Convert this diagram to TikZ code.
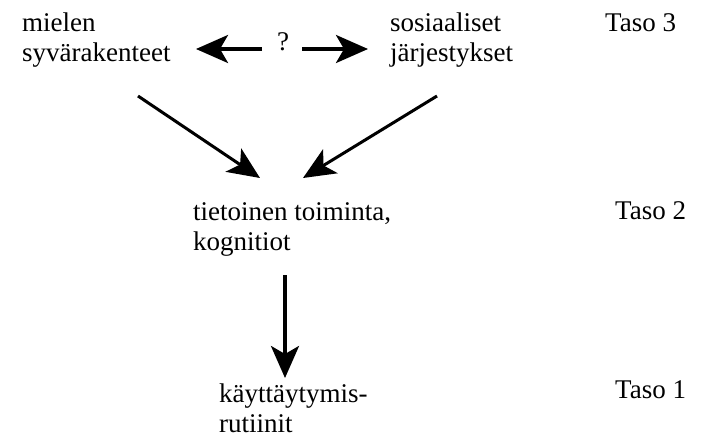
\documentclass[tikz,border=0pt]{standalone}
\usepackage{fontspec}
\setmainfont{Liberation Serif}
\usetikzlibrary{arrows.meta}

\begin{document}
\begin{tikzpicture}[x=1pt,y=-1pt,
    teksti/.style={anchor=base west,inner sep=0pt,align=left,font=\fontsize{27}{30}\selectfont},
    nuoli/.style={line width=3.5pt,-{Stealth[length=32pt,width=28pt,inset=8pt]}}]
    
    \useasboundingbox (0,0) rectangle (710,439);
    
    \node[teksti] (mieli) at (22,61) {mielen\\syvärakenteet};
    \node[teksti] (sosiaali) at (390,61) {sosiaaliset\\järjestykset};
    \node[teksti] (taso3) at (605,31) {Taso 3};
    \node[teksti] (kysymys) at (277,50) {?};
    
    \node[teksti] (tietoinen) at (193,250) {tietoinen toiminta,\\kognitiot};
    \node[teksti] (taso2) at (615,219) {Taso 2};
    
    \node[teksti] (rutiini) at (219,432) {käyttäytymis-\\rutiinit};
    \node[teksti] (taso1) at (615,398) {Taso 1};
    
    \coordinate (A) at (262,49) ;
    \coordinate (B) at (196,49) ;
    \coordinate (C) at (302,49) ;
    \coordinate (D) at (368,49) ;
    \coordinate (E) at (138,96) ;
    \coordinate (F) at (260,178) ;
    \coordinate (G) at (437,96) ;
    \coordinate (H) at (303,178) ;
    \coordinate (K) at (285,275) ;
    \coordinate (L) at (285,378) ;
    
    \draw[nuoli] (A) -- (B);
    \draw[nuoli] (C) -- (D);
    \draw[nuoli,line width=3pt] (E) -- (F);
    \draw[nuoli,line width=3pt] (G) -- (H);
    \draw[nuoli] (K) -- (L);
\end{tikzpicture}
\end{document}
